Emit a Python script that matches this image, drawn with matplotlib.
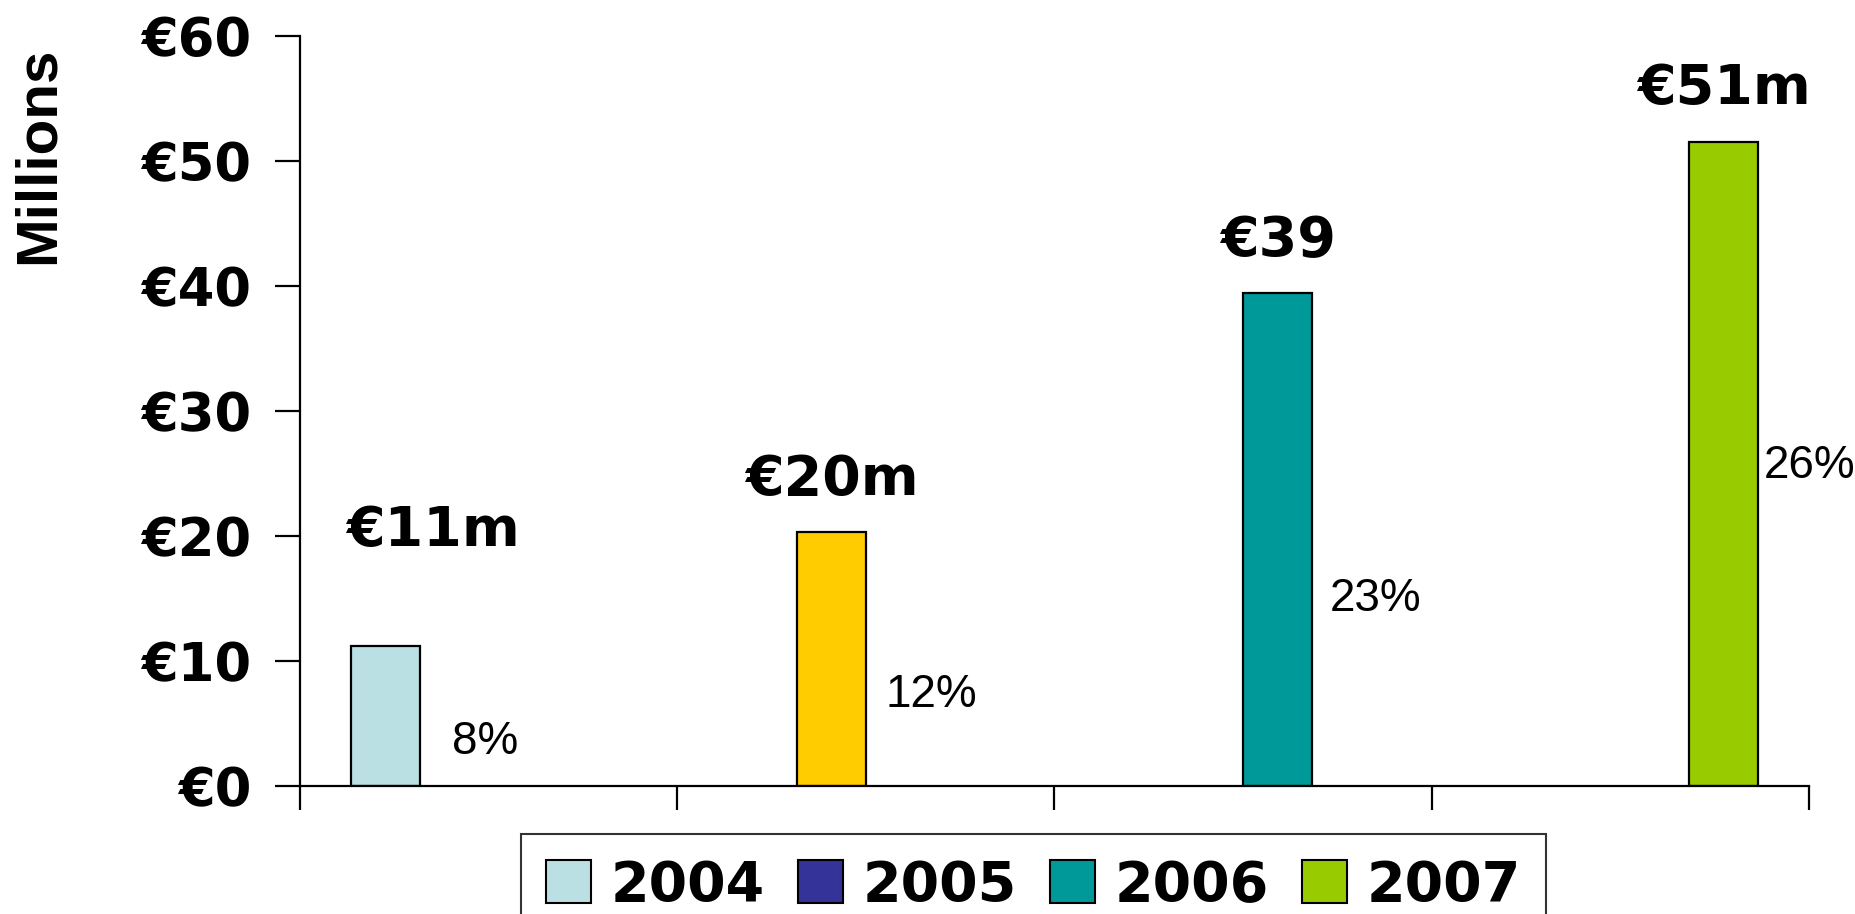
import matplotlib.pyplot as plt
from matplotlib.patches import Patch

plt.rcParams['font.family'] = ['Liberation Sans', 'DejaVu Sans']

# data
years = ['2004', '2005', '2006', '2007']
sales = [11.2, 20.3, 39.4, 51.5]          # EUR millions
value_labels = ['€11m', '€20m', '€39', '€51m']
share_labels = ['8%', '12%', '23%', '26%']
y_ticks = [0, 10, 20, 30, 40, 50, 60]
y_tick_labels = ['€0', '€10', '€20', '€30', '€40', '€50', '€60']

# styling
legend_colors = ['#BBE0E3', '#333399', '#009999', '#99CC00']
bar_colors = ['#BBE0E3', '#FFCC00', '#009999', '#99CC00']
bar_width = 0.182
value_dx = [0.125, 0.0, 0.0, 0.0]
value_dy = [8.0, 3.0, 3.0, 3.0]
share_dx = [0.085, 0.053, 0.047, 0.016]
share_y = [2.55, 6.3, 14.0, 24.6]
wide_bold = {'family': ['DejaVu Sans'], 'weight': 'bold'}

fig = plt.figure(figsize=(18.56, 9.14), dpi=100)
ax = fig.add_axes([0.1616, 0.140, 0.8131, 0.821])

for k, (val, col) in enumerate(zip(sales, bar_colors)):
    # grouped layout: series k sits in slot k of category k
    x = k + (k - 1.5) * bar_width
    ax.bar(x, val, width=bar_width, color=col, edgecolor='black', linewidth=1.6)
    ax.text(x + value_dx[k], val + value_dy[k], value_labels[k],
            ha='center', va='baseline', fontsize=40, **wide_bold)
    ax.text(x + bar_width / 2 + share_dx[k], share_y[k], share_labels[k],
            ha='left', va='baseline', fontsize=33)

ax.set_xlim(-0.5, 3.5)
ax.set_ylim(0, 60)
ax.set_xticks([-0.5, 0.5, 1.5, 2.5, 3.5])
ax.set_xticklabels([])
ax.set_yticks(y_ticks)
ax.set_yticklabels(y_tick_labels, fontsize=38, **wide_bold)
ax.tick_params(axis='y', length=18, width=1.6, pad=17)
ax.tick_params(axis='x', length=17, width=1.6)
for side in ['top', 'right']:
    ax.spines[side].set_visible(False)
for side in ['left', 'bottom']:
    ax.spines[side].set_linewidth(1.6)

fig.text(0.021, 0.83, 'Millions', rotation=90, ha='center', va='center',
         fontsize=42, fontweight='bold')

handles = [Patch(facecolor=c, edgecolor='black', linewidth=1.5) for c in legend_colors]
leg = fig.legend(handles, years, loc='upper center', bbox_to_anchor=(0.5569, 0.0875),
                 ncol=4, prop={'family': ['DejaVu Sans'], 'weight': 'bold', 'size': 40},
                 frameon=True, fancybox=False, handlelength=0.8, handleheight=0.8,
                 handletextpad=0.36, columnspacing=0.6, borderpad=0.45,
                 borderaxespad=0)
leg.get_frame().set_edgecolor('black')
leg.get_frame().set_linewidth(1.5)

fig.savefig('out.png', dpi=100)
